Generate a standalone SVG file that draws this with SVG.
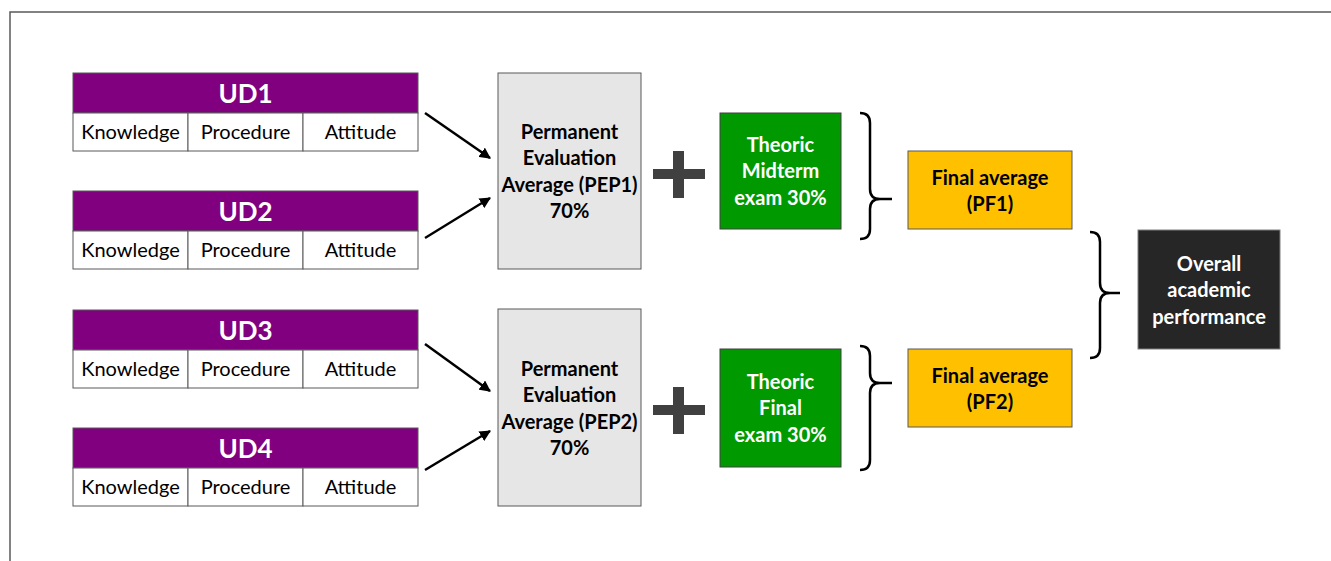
<svg xmlns="http://www.w3.org/2000/svg" width="1331" height="561" viewBox="0 0 1331 561">
  <style>
    .ud-head { fill: #800080; stroke: #595959; stroke-width: 1; }
    .ud-cell { fill: #ffffff; stroke: #595959; stroke-width: 1; }
    .ud-title { font-family: Lato, "Open Sans", sans-serif; font-weight: bold; font-size: 26px; fill: #ffffff; text-anchor: middle; }
    .cell-txt { font-family: Lato, "Open Sans", sans-serif; font-size: 20px; fill: #000000; text-anchor: middle; }
    .pep { fill: #e7e6e6; stroke: #595959; stroke-width: 1; }
    .exam { fill: #009900; stroke: #404040; stroke-width: 1; }
    .pf { fill: #ffc000; stroke: #595959; stroke-width: 1; }
    .overall { fill: #262626; stroke: #7f7f7f; stroke-width: 1; }
    .lbl { font-family: Lato, "Open Sans", sans-serif; font-weight: bold; font-size: 20px; text-anchor: middle; }
    .dark { fill: #000000; }
    .light { fill: #ffffff; }
    .plus { fill: #404040; }
    .arrow { stroke: #000000; stroke-width: 2.5; fill: none; marker-end: url(#head); }
    .brace { stroke: #000000; stroke-width: 2.5; fill: none; }
  </style>
  <defs>
    <marker id="head" viewBox="0 0 10 10" refX="9" refY="5" markerWidth="4.5" markerHeight="4.5" orient="auto" markerUnits="strokeWidth">
      <path d="M0,0 L10,5 L0,10 z" fill="#000000"/>
    </marker>
  </defs>

  <!-- frame -->
  <path d="M10,561 V12 H1331" fill="none" stroke="#595959" stroke-width="1.5"/>

  <!-- unit blocks -->
  <g id="ud1">
    <rect class="ud-head" x="73" y="73" width="345" height="40"/>
    <rect class="ud-cell" x="73" y="113" width="115" height="38"/>
    <rect class="ud-cell" x="188" y="113" width="115" height="38"/>
    <rect class="ud-cell" x="303" y="113" width="115" height="38"/>
    <text class="ud-title" x="245.5" y="103">UD1</text>
    <text class="cell-txt" x="130.5" y="139">Knowledge</text>
    <text class="cell-txt" x="245.5" y="139">Procedure</text>
    <text class="cell-txt" x="360.5" y="139">Attitude</text>
  </g>
  <g id="ud2">
    <rect class="ud-head" x="73" y="191" width="345" height="40"/>
    <rect class="ud-cell" x="73" y="231" width="115" height="38"/>
    <rect class="ud-cell" x="188" y="231" width="115" height="38"/>
    <rect class="ud-cell" x="303" y="231" width="115" height="38"/>
    <text class="ud-title" x="245.5" y="221">UD2</text>
    <text class="cell-txt" x="130.5" y="257">Knowledge</text>
    <text class="cell-txt" x="245.5" y="257">Procedure</text>
    <text class="cell-txt" x="360.5" y="257">Attitude</text>
  </g>
  <g id="ud3">
    <rect class="ud-head" x="73" y="310" width="345" height="40"/>
    <rect class="ud-cell" x="73" y="350" width="115" height="38"/>
    <rect class="ud-cell" x="188" y="350" width="115" height="38"/>
    <rect class="ud-cell" x="303" y="350" width="115" height="38"/>
    <text class="ud-title" x="245.5" y="340">UD3</text>
    <text class="cell-txt" x="130.5" y="376">Knowledge</text>
    <text class="cell-txt" x="245.5" y="376">Procedure</text>
    <text class="cell-txt" x="360.5" y="376">Attitude</text>
  </g>
  <g id="ud4">
    <rect class="ud-head" x="73" y="428" width="345" height="40"/>
    <rect class="ud-cell" x="73" y="468" width="115" height="38"/>
    <rect class="ud-cell" x="188" y="468" width="115" height="38"/>
    <rect class="ud-cell" x="303" y="468" width="115" height="38"/>
    <text class="ud-title" x="245.5" y="458">UD4</text>
    <text class="cell-txt" x="130.5" y="494">Knowledge</text>
    <text class="cell-txt" x="245.5" y="494">Procedure</text>
    <text class="cell-txt" x="360.5" y="494">Attitude</text>
  </g>

  <!-- permanent evaluation averages -->
  <g id="pep1">
    <rect class="pep" x="498" y="73" width="143" height="196"/>
    <text class="lbl dark" x="569.5" y="139">Permanent</text>
    <text class="lbl dark" x="569.5" y="165">Evaluation</text>
    <text class="lbl dark" x="569.5" y="192">Average (PEP1)</text>
    <text class="lbl dark" x="569.5" y="218">70%</text>
  </g>
  <g id="pep2">
    <rect class="pep" x="498" y="309" width="143" height="197"/>
    <text class="lbl dark" x="569.5" y="376">Permanent</text>
    <text class="lbl dark" x="569.5" y="402">Evaluation</text>
    <text class="lbl dark" x="569.5" y="429">Average (PEP2)</text>
    <text class="lbl dark" x="569.5" y="455">70%</text>
  </g>

  <!-- plus signs -->
  <g id="plus1">
    <rect class="plus" x="653" y="169" width="52" height="10"/>
    <rect class="plus" x="673" y="151" width="11" height="47"/>
  </g>
  <g id="plus2">
    <rect class="plus" x="653" y="405" width="52" height="10"/>
    <rect class="plus" x="673" y="387" width="11" height="47"/>
  </g>

  <!-- exams -->
  <g id="midterm">
    <rect class="exam" x="720" y="113" width="121" height="116"/>
    <text class="lbl light" x="780.5" y="152">Theoric</text>
    <text class="lbl light" x="780.5" y="178">Midterm</text>
    <text class="lbl light" x="780.5" y="205">exam 30%</text>
  </g>
  <g id="final-exam">
    <rect class="exam" x="720" y="349" width="121" height="118"/>
    <text class="lbl light" x="780.5" y="389">Theoric</text>
    <text class="lbl light" x="780.5" y="415">Final</text>
    <text class="lbl light" x="780.5" y="442">exam 30%</text>
  </g>

  <!-- final averages -->
  <g id="pf1">
    <rect class="pf" x="908" y="151" width="164" height="78"/>
    <text class="lbl dark" x="990" y="185">Final average</text>
    <text class="lbl dark" x="990" y="211">(PF1)</text>
  </g>
  <g id="pf2">
    <rect class="pf" x="908" y="349" width="164" height="78"/>
    <text class="lbl dark" x="990" y="383">Final average</text>
    <text class="lbl dark" x="990" y="409">(PF2)</text>
  </g>

  <!-- overall result -->
  <g id="overall">
    <rect class="overall" x="1138" y="230" width="142" height="119"/>
    <text class="lbl light" x="1209" y="271">Overall</text>
    <text class="lbl light" x="1209" y="297">academic</text>
    <text class="lbl light" x="1209" y="324">performance</text>
  </g>

  <!-- connectors -->
  <g id="connectors">
    <line class="arrow" x1="425" y1="113" x2="490" y2="158"/>
    <line class="arrow" x1="425" y1="238" x2="490" y2="198"/>
    <line class="arrow" x1="425" y1="344" x2="490" y2="391"/>
    <line class="arrow" x1="425" y1="470" x2="490" y2="431"/>
    <path class="brace" d="M860,113 Q870,113 870,123 V189 Q870,199 880,199 H892 M880,199 Q870,199 870,209 V229 Q870,239 860,239"/>
    <path class="brace" d="M860,346 Q870,346 870,356 V373 Q870,383 880,383 H892 M880,383 Q870,383 870,393 V460 Q870,470 860,470"/>
    <path class="brace" d="M1090,232 Q1100,232 1100,242 V283 Q1100,293 1110,293 H1120 M1110,293 Q1100,293 1100,303 V348 Q1100,358 1090,358"/>
  </g>
</svg>
